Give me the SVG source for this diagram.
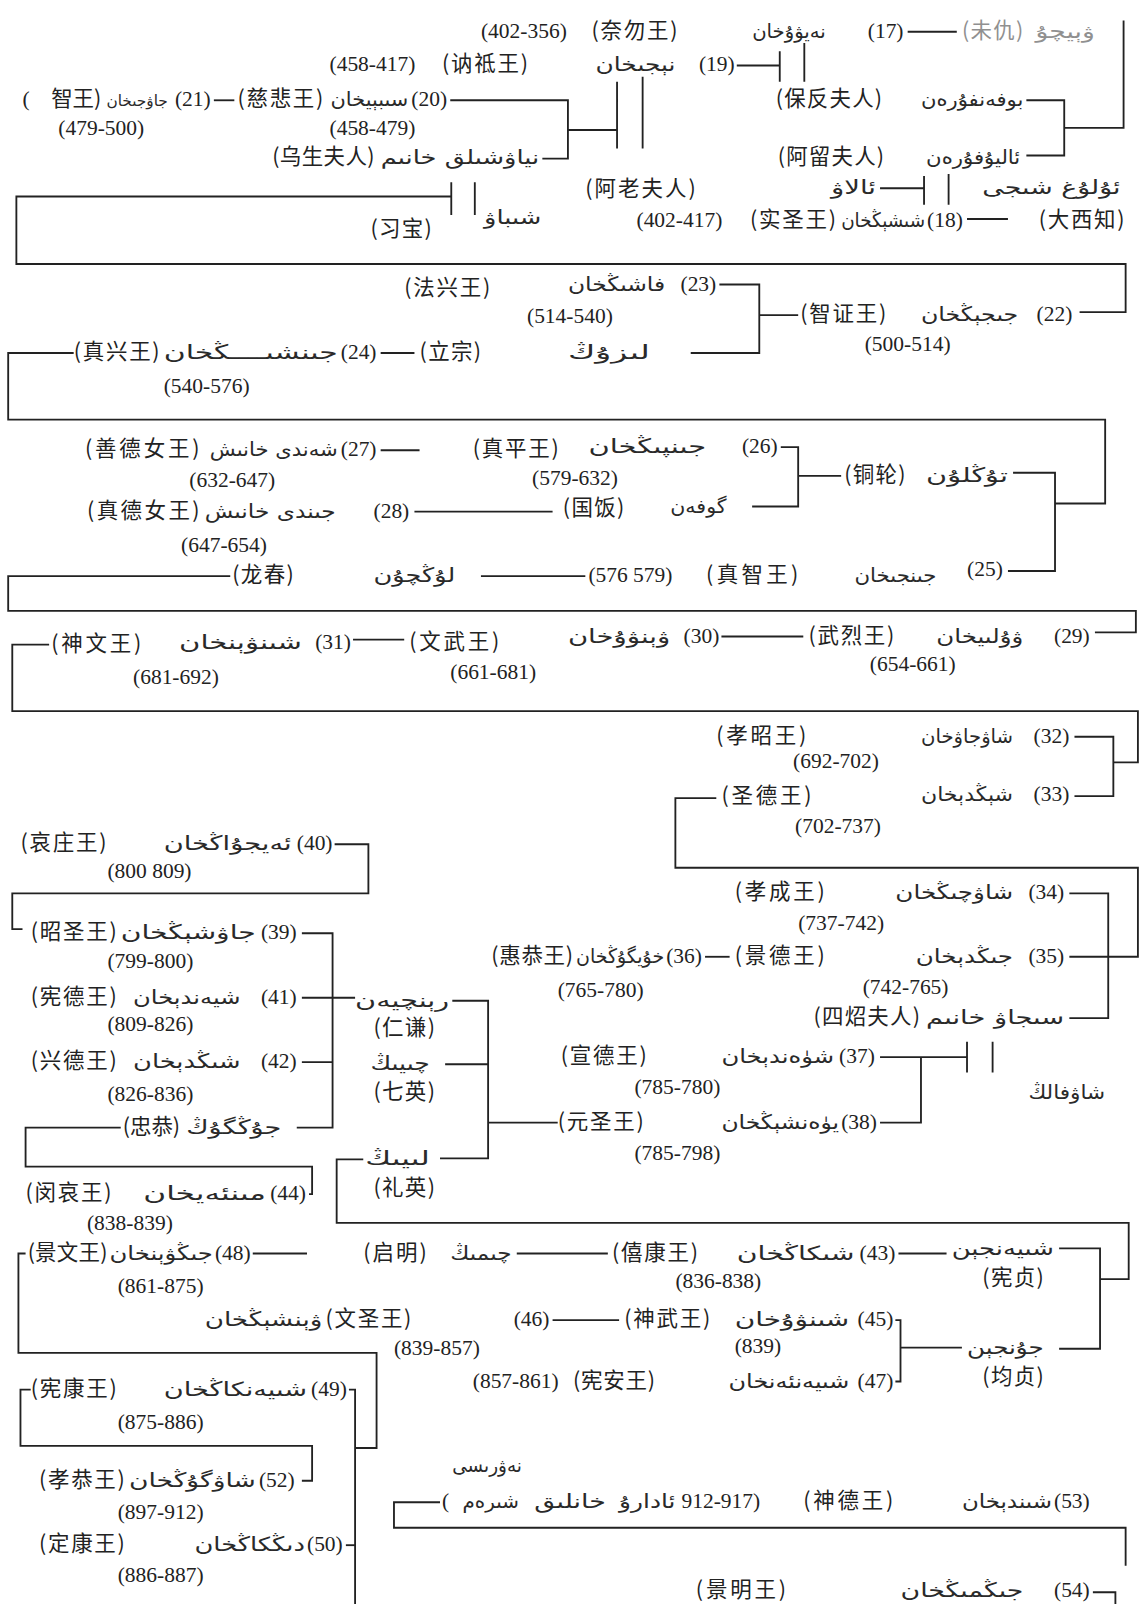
<svg xmlns="http://www.w3.org/2000/svg" width="1142" height="1604" viewBox="0 0 1142 1604">
<style>
.z{font-family:"Noto Sans CJK SC","Noto Sans CJK JP",sans-serif;font-size:21px;fill:#222222}
.n{font-family:"Liberation Serif",serif;font-size:21px;fill:#222222}
.u{font-family:"DejaVu Sans",sans-serif;font-size:19px;fill:#2a2a2a}
.g{fill:#909090}
#conn path{fill:none;stroke:#222222;stroke-width:1.8}
</style>
<rect width="1142" height="1604" fill="#ffffff"/>
<g transform="scale(1.0233)">
<g id="conn">
<path d="M887,31 H935"/>
<path d="M1098,20 V125 H1040"/>
<path d="M1003,98 H1040 V152 H1003"/>
<path d="M720,64 H762 M762,50 V80 M786,42 V80"/>
<path d="M209,98 H229"/>
<path d="M440,98 H555 V155 H530 M555,127 H603 M603,80 V145 M628,75 V145"/>
<path d="M860,184 H903 M903,172 V200 M927,170 V200"/>
<path d="M945,214 H985"/>
<path d="M441,192 H16 V258 H1100 V305 H1055 M441,178 V210 M464,178 V210"/>
<path d="M703,278 H742 V345 H675 M742,308 H780"/>
<path d="M372,345 H405"/>
<path d="M72,345 H8 V410 H1080 V492 H1031"/>
<path d="M763,437 H780 V495 H735 M780,465 H822"/>
<path d="M990,462 H1031 V558 H985"/>
<path d="M372,440 H410"/>
<path d="M405,500 H540"/>
<path d="M225,563 H8 V597 H1110 V618 H1070"/>
<path d="M470,563 H572"/>
<path d="M705,622 H785 M345,625 H395"/>
<path d="M48,630 H12 V695 H1112 V745 H1088"/>
<path d="M1050,720 H1088 V778 H1050"/>
<path d="M700,780 H660 V848 H1112 V935 H1045"/>
<path d="M1045,873 H1083 V995 H1045"/>
<path d="M689,935 H713"/>
<path d="M860,1033 H945 M945,1018 V1048 M970,1018 V1048 M900,1033 V1097 H860"/>
<path d="M327,825 H360 V873 H12 V908 H22"/>
<path d="M295,912 H325 V1102 H290"/>
<path d="M295,975 H347 M442,978 H477 V1132 H430 M295,1038 H325 M435,1040 H477 M477,1097 H545"/>
<path d="M118,1102 H25 V1140 H305 V1167 H302"/>
<path d="M355,1133 H329 V1195 H1103 V1250 H1075"/>
<path d="M1035,1220 H1075 V1318 H1035"/>
<path d="M878,1225 H925"/>
<path d="M247,1225 H300 M505,1225 H594"/>
<path d="M25,1225 H18 V1322 H368 V1415 H347"/>
<path d="M540,1290 H605"/>
<path d="M875,1290 H880 V1350 H875 M880,1317 H940"/>
<path d="M341,1358 H347 V1568 M30,1358 H20 V1413 H305 V1447 H295"/>
<path d="M338,1510 H347"/>
<path d="M430,1468 H385 V1493 H1100 V1530"/>
<path d="M1068,1556 H1090 V1570"/>
</g>

<g id="n17">
<text class="n" x="470" y="37">(402-356)</text>
<text class="z" x="578" y="37" textLength="84">(奈勿王)</text>
<text class="u" x="735" y="37" textLength="72" lengthAdjust="spacingAndGlyphs">نەيۋۇخان</text>
<text class="n" x="848" y="37">(17)</text>
</g>
<g id="weichou">
<text class="z g" x="940" y="37" textLength="60">(未仇)</text>
<text class="u g" x="1012" y="37" textLength="58" lengthAdjust="spacingAndGlyphs">ۋېيچۇ</text>
</g>
<g id="n19">
<text class="n" x="322" y="69">(458-417)</text>
<text class="z" x="432" y="69" textLength="84">(讷祗王)</text>
<text class="u" x="582" y="69" textLength="78" lengthAdjust="spacingAndGlyphs">نېجىخان</text>
<text class="n" x="683" y="69">(19)</text>
</g>
<g id="n21">
<text class="n" x="22" y="104">(</text>
<text class="z" x="50" y="104">智王)</text>
<text class="u" x="104" y="104" style="font-size:15px" textLength="60" lengthAdjust="spacingAndGlyphs">جاۋجىخان</text>
<text class="n" x="171" y="104">(21)</text>
<text class="n" x="57" y="132">(479-500)</text>
</g>
<g id="n20">
<text class="z" x="232" y="104" textLength="84">(慈悲王)</text>
<text class="u" x="323" y="104" textLength="76" lengthAdjust="spacingAndGlyphs">سىبېيخان</text>
<text class="n" x="402" y="104">(20)</text>
<text class="n" x="322" y="132">(458-479)</text>
</g>
<g id="wusheng">
<text class="z" x="266" y="160" textLength="100">(乌生夫人)</text>
<text class="u" x="372" y="160" textLength="155" lengthAdjust="spacingAndGlyphs">نياۋشىلق خانىم</text>
</g>
<g id="baofan">
<text class="z" x="758" y="104" textLength="104">(保反夫人)</text>
<text class="u" x="900" y="104" textLength="100" lengthAdjust="spacingAndGlyphs">بوفەنفۇرەن</text>
</g>
<g id="aliu">
<text class="z" x="760" y="160" textLength="104">(阿留夫人)</text>
<text class="u" x="905" y="160" textLength="92" lengthAdjust="spacingAndGlyphs">ئاليۇفۇرەن</text>
</g>
<g id="alao">
<text class="z" x="572" y="192" textLength="108">(阿老夫人)</text>
<text class="u" x="812" y="190" textLength="44" lengthAdjust="spacingAndGlyphs">ئالاۋ</text>
</g>
<g id="dashizhi">
<text class="u" x="960" y="190" textLength="135" lengthAdjust="spacingAndGlyphs">ئۇلۇغ شىجى</text>
<text class="z" x="1015" y="222" textLength="84">(大西知)</text>
</g>
<g id="n18">
<text class="n" x="622" y="222">(402-417)</text>
<text class="z" x="733" y="222" textLength="84">(实圣王)</text>
<text class="u" x="822" y="222" textLength="82" lengthAdjust="spacingAndGlyphs">شىشېڭخان</text>
<text class="n" x="906" y="222">(18)</text>
</g>
<g id="xibao">
<text class="z" x="362" y="231" textLength="60">(习宝)</text>
<text class="u" x="473" y="219" textLength="56" lengthAdjust="spacingAndGlyphs">شىباۋ</text>
</g>

<g id="n22">
<text class="z" x="782" y="314" textLength="84">(智证王)</text>
<text class="u" x="900" y="314" textLength="95" lengthAdjust="spacingAndGlyphs">جىجېڭخان</text>
<text class="n" x="1013" y="314">(22)</text>
<text class="n" x="845" y="343">(500-514)</text>
</g>
<g id="n23">
<text class="z" x="395" y="288" textLength="84">(法兴王)</text>
<text class="u" x="555" y="284" textLength="95" lengthAdjust="spacingAndGlyphs">فاشىڭخان</text>
<text class="n" x="665" y="284">(23)</text>
<text class="n" x="515" y="316">(514-540)</text>
</g>
<g id="lizong">
<text class="z" x="410" y="351" textLength="60">(立宗)</text>
<text class="u" x="555" y="351" textLength="80" lengthAdjust="spacingAndGlyphs">لىزۇڭ</text>
</g>
<g id="n24">
<text class="z" x="72" y="351" textLength="84">(真兴王)</text>
<text class="u" x="160" y="351" textLength="170" lengthAdjust="spacingAndGlyphs">جىنشىــــڭخان</text>
<text class="n" x="333" y="351">(24)</text>
<text class="n" x="160" y="384">(540-576)</text>
</g>
<g id="n26">
<text class="z" x="462" y="446" textLength="84">(真平王)</text>
<text class="u" x="575" y="443" textLength="115" lengthAdjust="spacingAndGlyphs">جىنپىڭخان</text>
<text class="n" x="725" y="443">(26)</text>
<text class="n" x="520" y="474">(579-632)</text>
</g>
<g id="guofan">
<text class="z" x="550" y="503" textLength="60">(国饭)</text>
<text class="u" x="655" y="501" textLength="55" lengthAdjust="spacingAndGlyphs">گوفەن</text>
</g>
<g id="tonglun">
<text class="z" x="825" y="471" textLength="60">(铜轮)</text>
<text class="u" x="905" y="471" textLength="80" lengthAdjust="spacingAndGlyphs">تۇڭلۇن</text>
</g>
<g id="n27">
<text class="z" x="83" y="446" textLength="112">(善德女王)</text>
<text class="u" x="205" y="446" textLength="125" lengthAdjust="spacingAndGlyphs">شەندى خانىش</text>
<text class="n" x="333" y="446">(27)</text>
<text class="n" x="185" y="476">(632-647)</text>
</g>
<g id="n28">
<text class="z" x="85" y="506" textLength="110">(真德女王)</text>
<text class="u" x="200" y="506" textLength="128" lengthAdjust="spacingAndGlyphs">جىندى خانىش</text>
<text class="n" x="365" y="506">(28)</text>
<text class="n" x="177" y="539">(647-654)</text>
</g>
<g id="longchun">
<text class="z" x="227" y="569" textLength="60">(龙春)</text>
<text class="u" x="365" y="569" textLength="80" lengthAdjust="spacingAndGlyphs">لۇڭچۇن</text>
</g>
<g id="n25">
<text class="n" x="575" y="569">(576 579)</text>
<text class="z" x="690" y="569" textLength="90">(真智王)</text>
<text class="u" x="835" y="569" textLength="80" lengthAdjust="spacingAndGlyphs">جىنجىخان</text>
<text class="n" x="945" y="563">(25)</text>
</g>
<g id="n29">
<text class="z" x="790" y="628" textLength="84">(武烈王)</text>
<text class="u" x="915" y="628" textLength="85" lengthAdjust="spacingAndGlyphs">ۋۇلىيخان</text>
<text class="n" x="1030" y="628">(29)</text>
<text class="n" x="850" y="656">(654-661)</text>
</g>
<g id="n30">
<text class="z" x="400" y="634" textLength="88">(文武王)</text>
<text class="u" x="555" y="628" textLength="100" lengthAdjust="spacingAndGlyphs">ۋېنۋۇخان</text>
<text class="n" x="668" y="628">(30)</text>
<text class="n" x="440" y="664">(661-681)</text>
</g>
<g id="n31">
<text class="z" x="50" y="636" textLength="88">(神文王)</text>
<text class="u" x="175" y="634" textLength="120" lengthAdjust="spacingAndGlyphs">شىنۋېنخان</text>
<text class="n" x="308" y="634">(31)</text>
<text class="n" x="130" y="668">(681-692)</text>
</g>
<g id="n32">
<text class="z" x="700" y="726" textLength="88">(孝昭王)</text>
<text class="u" x="900" y="726" textLength="90" lengthAdjust="spacingAndGlyphs">شاۋجاۋخان</text>
<text class="n" x="1010" y="726">(32)</text>
<text class="n" x="775" y="751">(692-702)</text>
</g>
<g id="n33">
<text class="z" x="705" y="785" textLength="88">(圣德王)</text>
<text class="u" x="900" y="783" textLength="90" lengthAdjust="spacingAndGlyphs">شېڭدېخان</text>
<text class="n" x="1010" y="783">(33)</text>
<text class="n" x="777" y="814">(702-737)</text>
</g>
<g id="n34">
<text class="z" x="718" y="879" textLength="88">(孝成王)</text>
<text class="u" x="875" y="879" textLength="115" lengthAdjust="spacingAndGlyphs">شاۋچىڭخان</text>
<text class="n" x="1005" y="879">(34)</text>
<text class="n" x="780" y="909">(737-742)</text>
</g>
<g id="n35">
<text class="z" x="718" y="941" textLength="88">(景德王)</text>
<text class="u" x="895" y="941" textLength="95" lengthAdjust="spacingAndGlyphs">جىڭدېخان</text>
<text class="n" x="1005" y="941">(35)</text>
<text class="n" x="843" y="971">(742-765)</text>
</g>
<g id="n36">
<text class="z" x="480" y="941" textLength="80">(惠恭王)</text>
<text class="u" x="563" y="941" textLength="86" lengthAdjust="spacingAndGlyphs">خۇيگۇڭخان</text>
<text class="n" x="651" y="941">(36)</text>
<text class="n" x="545" y="974">(765-780)</text>
</g>
<g id="sizhao">
<text class="z" x="795" y="1001" textLength="104">(四炤夫人)</text>
<text class="u" x="905" y="1001" textLength="135" lengthAdjust="spacingAndGlyphs">سىجاۋ خانىم</text>
</g>
<g id="n37">
<text class="z" x="548" y="1039" textLength="84">(宣德王)</text>
<text class="u" x="705" y="1039" textLength="110" lengthAdjust="spacingAndGlyphs">شۈەندېخان</text>
<text class="n" x="820" y="1039">(37)</text>
<text class="n" x="620" y="1069">(785-780)</text>
</g>
<g id="shaofa">
<text class="u" x="1005" y="1074" textLength="75" lengthAdjust="spacingAndGlyphs">شاۋفالڭ</text>
</g>
<g id="n38">
<text class="z" x="545" y="1103" textLength="84">(元圣王)</text>
<text class="u" x="705" y="1103" textLength="115" lengthAdjust="spacingAndGlyphs">يۈەنشېڭخان</text>
<text class="n" x="822" y="1103">(38)</text>
<text class="n" x="620" y="1134">(785-798)</text>
</g>
<g id="n40">
<text class="z" x="20" y="831" textLength="84">(哀庄王)</text>
<text class="u" x="160" y="831" textLength="125" lengthAdjust="spacingAndGlyphs">ئەيجۇاڭخان</text>
<text class="n" x="290" y="831">(40)</text>
<text class="n" x="105" y="858">(800 809)</text>
</g>
<g id="n39">
<text class="z" x="30" y="918" textLength="84">(昭圣王)</text>
<text class="u" x="118" y="918" textLength="132" lengthAdjust="spacingAndGlyphs">جاۋشېڭخان</text>
<text class="n" x="255" y="918">(39)</text>
<text class="n" x="105" y="946">(799-800)</text>
</g>
<g id="n41">
<text class="z" x="30" y="981" textLength="84">(宪德王)</text>
<text class="u" x="130" y="981" textLength="105" lengthAdjust="spacingAndGlyphs">شيەندېخان</text>
<text class="n" x="255" y="981">(41)</text>
<text class="n" x="105" y="1008">(809-826)</text>
</g>
<g id="renqian">
<text class="u" x="347" y="984" textLength="92" lengthAdjust="spacingAndGlyphs">رېنچيەن</text>
<text class="z" x="365" y="1011" textLength="60">(仁谦)</text>
</g>
<g id="n42">
<text class="z" x="30" y="1044" textLength="84">(兴德王)</text>
<text class="u" x="130" y="1044" textLength="105" lengthAdjust="spacingAndGlyphs">شىڭدېخان</text>
<text class="n" x="255" y="1044">(42)</text>
<text class="n" x="105" y="1076">(826-836)</text>
</g>
<g id="qiying">
<text class="u" x="362" y="1046" textLength="58" lengthAdjust="spacingAndGlyphs">چىيىڭ</text>
<text class="z" x="365" y="1074" textLength="60">(七英)</text>
</g>
<g id="zhonggong">
<text class="z" x="120" y="1108" textLength="56">(忠恭)</text>
<text class="u" x="182" y="1108" textLength="93" lengthAdjust="spacingAndGlyphs">جۇڭگۇڭ</text>
</g>
<g id="liying">
<text class="u" x="357" y="1138" textLength="63" lengthAdjust="spacingAndGlyphs">لىيىڭ</text>
<text class="z" x="365" y="1168" textLength="60">(礼英)</text>
</g>
<g id="n44">
<text class="z" x="25" y="1173" textLength="84">(闵哀王)</text>
<text class="u" x="140" y="1173" textLength="120" lengthAdjust="spacingAndGlyphs">مىنئەيخان</text>
<text class="n" x="264" y="1173">(44)</text>
<text class="n" x="85" y="1202">(838-839)</text>
</g>
<g id="n48">
<text class="z" x="27" y="1231" textLength="78">(景文王)</text>
<text class="u" x="107" y="1231" textLength="101" lengthAdjust="spacingAndGlyphs">جىڭۋېنخان</text>
<text class="n" x="210" y="1231">(48)</text>
<text class="n" x="115" y="1264">(861-875)</text>
</g>
<g id="qiming">
<text class="z" x="355" y="1231" textLength="62">(启明)</text>
<text class="u" x="440" y="1231" textLength="60" lengthAdjust="spacingAndGlyphs">چىمىڭ</text>
</g>
<g id="n43">
<text class="z" x="598" y="1231" textLength="84">(僖康王)</text>
<text class="u" x="720" y="1231" textLength="115" lengthAdjust="spacingAndGlyphs">شىكاڭخان</text>
<text class="n" x="840" y="1231">(43)</text>
<text class="n" x="660" y="1259">(836-838)</text>
</g>
<g id="xianzhen">
<text class="u" x="930" y="1226" textLength="100" lengthAdjust="spacingAndGlyphs">شىيەنجېن</text>
<text class="z" x="960" y="1256" textLength="60">(宪贞)</text>
</g>
<g id="n46">
<text class="u" x="200" y="1296" textLength="115" lengthAdjust="spacingAndGlyphs">ۋېنشېڭخان</text>
<text class="z" x="318" y="1296" textLength="84">(文圣王)</text>
<text class="n" x="502" y="1296">(46)</text>
<text class="n" x="385" y="1324">(839-857)</text>
</g>
<g id="n45">
<text class="z" x="610" y="1296" textLength="84">(神武王)</text>
<text class="u" x="718" y="1296" textLength="112" lengthAdjust="spacingAndGlyphs">شىنۋۇخان</text>
<text class="n" x="838" y="1296">(45)</text>
<text class="n" x="718" y="1322">(839)</text>
</g>
<g id="junzhen">
<text class="u" x="945" y="1323" textLength="75" lengthAdjust="spacingAndGlyphs">جۇنجېن</text>
<text class="z" x="960" y="1352" textLength="60">(均贞)</text>
</g>
<g id="n47">
<text class="n" x="462" y="1356">(857-861)</text>
<text class="z" x="560" y="1356" textLength="80">(宪安王)</text>
<text class="u" x="712" y="1356" textLength="118" lengthAdjust="spacingAndGlyphs">شىيەنئەنخان</text>
<text class="n" x="838" y="1356">(47)</text>
</g>
<g id="n49">
<text class="z" x="30" y="1364" textLength="84">(宪康王)</text>
<text class="u" x="160" y="1364" textLength="140" lengthAdjust="spacingAndGlyphs">شىيەنكاڭخان</text>
<text class="n" x="304" y="1364">(49)</text>
<text class="n" x="115" y="1396">(875-886)</text>
</g>
<g id="n52">
<text class="z" x="38" y="1453" textLength="84">(孝恭王)</text>
<text class="u" x="126" y="1453" textLength="124" lengthAdjust="spacingAndGlyphs">شاۋگۇڭخان</text>
<text class="n" x="253" y="1453">(52)</text>
<text class="n" x="115" y="1484">(897-912)</text>
</g>
<g id="n50">
<text class="z" x="38" y="1516" textLength="84">(定康王)</text>
<text class="u" x="190" y="1516" textLength="108" lengthAdjust="spacingAndGlyphs">دىڭكاڭخان</text>
<text class="n" x="300" y="1516">(50)</text>
<text class="n" x="115" y="1546">(886-887)</text>
</g>
<g id="n53">
<text class="u" x="442" y="1438" textLength="68" lengthAdjust="spacingAndGlyphs">نەۋرىسى</text>
<text class="n" x="432" y="1474">(</text>
<text class="u" x="452" y="1474" textLength="55" lengthAdjust="spacingAndGlyphs">شىرەم</text>
<text class="u" x="522" y="1474" textLength="70" lengthAdjust="spacingAndGlyphs">خانلىق</text>
<text class="u" x="605" y="1474" textLength="55" lengthAdjust="spacingAndGlyphs">ئادارۇ</text>
<text class="n" x="666" y="1474">912-917)</text>
<text class="z" x="785" y="1474" textLength="88">(神德王)</text>
<text class="u" x="940" y="1474" textLength="88" lengthAdjust="spacingAndGlyphs">شىندېخان</text>
<text class="n" x="1030" y="1474">(53)</text>
</g>
<g id="n54">
<text class="z" x="680" y="1561" textLength="88">(景明王)</text>
<text class="u" x="880" y="1561" textLength="120" lengthAdjust="spacingAndGlyphs">جىڭمىڭخان</text>
<text class="n" x="1030" y="1561">(54)</text>
</g>
</g>
</svg>
